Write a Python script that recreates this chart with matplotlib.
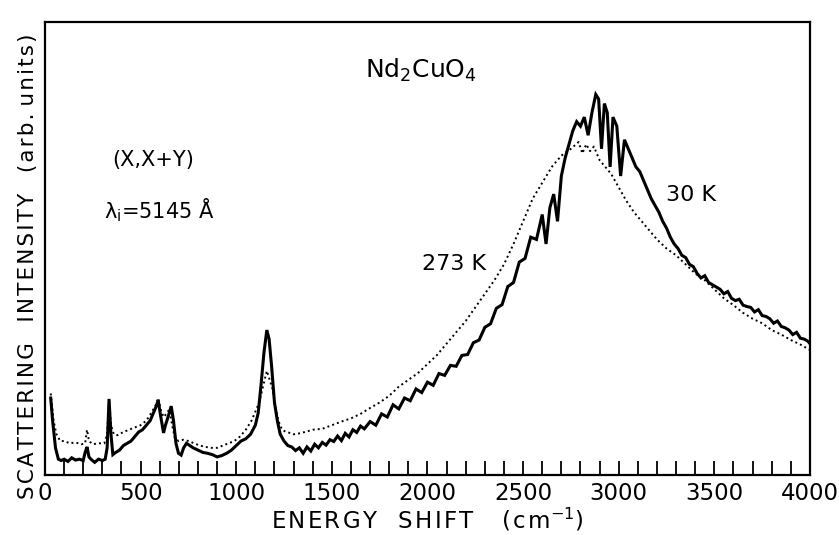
import matplotlib
matplotlib.use("Agg")
import matplotlib.pyplot as plt
from matplotlib.ticker import MultipleLocator

plt.rcParams['font.family'] = ['DejaVu Sans']

# 30 K spectrum (solid)
shift_30k = [30, 40, 55, 70, 85, 100, 120, 140, 160, 180, 200, 210, 220, 230, 240,
             260, 280, 300, 315, 325, 335, 345, 355, 370, 390, 410, 430, 450, 470,
             490, 510, 530, 550, 565, 580, 592, 605, 620, 630, 645, 660, 672, 685,
             698, 712, 725, 740, 758, 775, 800, 825, 850, 875, 900, 925, 950, 975,
             1000, 1025, 1050, 1075, 1100, 1115, 1130, 1145, 1160, 1172, 1185, 1200,
             1215, 1230, 1250, 1270, 1290,
             1310, 1330, 1350, 1370, 1390, 1410, 1430,
             1450, 1470, 1490, 1510, 1530, 1550, 1570, 1590, 1610, 1630, 1650, 1670,
             1700, 1730, 1760, 1790, 1820, 1850, 1880, 1910, 1940, 1970, 2000, 2030,
             2060, 2090, 2120, 2150, 2180, 2210, 2240, 2270, 2300, 2330, 2360, 2390,
             2420, 2450, 2480, 2510, 2540, 2570, 2600,
             2620, 2640, 2660, 2680, 2700,
             2720, 2740, 2760, 2780, 2800, 2820, 2840, 2860, 2880, 2895, 2910, 2925,
             2940, 2955, 2970, 2990, 3010, 3030, 3050, 3070, 3090, 3110, 3130, 3150,
             3170, 3190, 3210, 3230, 3250, 3270, 3290, 3310, 3330, 3350, 3370, 3390,
             3410, 3430, 3450, 3470, 3490, 3510, 3530, 3550, 3570, 3590, 3610, 3630,
             3650, 3670, 3690, 3710, 3730, 3750, 3770, 3790, 3810, 3830, 3850, 3870,
             3890, 3910, 3930, 3950, 3970, 3990, 4000]
int_30k = [17, 12, 6, 3.5, 3.2, 3.5, 3.0, 3.8, 3.3, 3.5, 3.2, 5, 6.2, 4, 3.5,
           2.8, 3.5, 3.2, 3.5, 6, 16.8, 9, 4.5, 5, 5.5, 6.5, 7, 7.5, 8.5,
           9.5, 10, 11, 12, 13.5, 15, 16.5, 13, 9.3, 11, 13, 15.2, 12, 7,
           4.8, 4.4, 6, 7, 6.5, 6, 5.5, 5, 4.8, 4.5, 4, 4.3, 4.8, 5.5,
           6.5, 7.5, 8, 9, 11, 13.7, 20, 27, 32, 30, 24, 16,
           12, 9, 7.5, 6.5, 6.2,
           5.4, 6.0, 4.8, 6.2, 5.3, 6.8, 6.0,
           7.2, 6.6, 7.8, 7.4, 8.6, 7.6, 9.2, 8.4, 10.0, 9.4, 10.8, 10.2,
           11.8, 11.0, 13.5, 12.8, 15.5, 14.6, 17.0, 16.4, 19.0, 18.2, 20.5, 19.8,
           22.4, 22.0, 24.2, 24.0, 26.4, 26.6, 29.2, 29.8, 32.6, 33.4, 36.8, 37.6,
           41.6, 42.5, 47.0, 47.8, 52.5, 52.0, 57.5,
           51, 59, 62, 56, 66,
           70, 73, 76, 78, 77, 79, 75, 80, 84, 83, 72, 82,
           80, 68, 79, 77, 66, 74, 72, 70, 68, 67, 65, 63,
           61, 59.5, 58, 56, 54.5, 52.5, 51, 50, 48.5, 48, 46.5, 46,
           44.5, 43.5, 44, 42.5, 42, 41.5, 41, 40, 40.5, 39, 38.5, 38.8,
           37.5, 37.2, 37, 36, 36.5, 35.2, 35, 34.5, 33.5, 34, 32.8, 32.5,
           32, 31, 31.5, 30.2, 30, 29.5, 29]

# 273 K spectrum (dotted)
shift_273k = [30, 45, 60, 80, 100, 130, 160, 190, 210, 220, 230, 250, 280, 310, 325,
              335, 345, 360, 380, 410, 440, 470, 500, 530, 560, 580, 592, 605, 620,
              635, 650, 665, 680, 700, 725, 750, 780, 810, 840, 870, 900, 930, 960,
              990, 1020, 1050, 1080, 1100, 1120, 1140, 1160, 1175, 1190, 1205, 1220,
              1240, 1260, 1280, 1300, 1330, 1360, 1400, 1450, 1500, 1550, 1600, 1650,
              1700, 1750, 1800, 1850, 1900, 1950, 2000, 2050, 2100, 2150, 2200, 2250,
              2300, 2350, 2400, 2450, 2500, 2550, 2600, 2650, 2700, 2750, 2790, 2810,
              2830, 2850, 2870, 2900, 2930, 2960, 3000, 3040, 3080, 3120, 3160, 3200,
              3250, 3300, 3350, 3400, 3450, 3500, 3550, 3600, 3650, 3700, 3750, 3800,
              3850, 3900, 3950, 4000]
int_273k = [18, 12, 9, 7.5, 7.5, 7, 7.2, 6.8, 7, 10, 7.5, 6.8, 7, 7, 9,
            16.5, 11, 9, 8.8, 9.5, 10, 10.5, 11, 12, 14, 15.5, 17, 14.5, 12.8,
            13.5, 14.5, 11, 8, 7.5, 7.8, 7.5, 7, 6.5, 6.2, 6, 6, 6.5, 7,
            7.5, 8.5, 10, 12, 14, 16, 19.5, 23, 21, 19, 15, 12,
            10, 9.5, 9.3, 9, 9.2, 9.5, 10, 10.2, 11, 11.8, 12.5, 13.5,
            14.8, 16, 17.5, 19.5, 21, 22.5, 24.5, 26.5, 29, 31.5, 34, 37,
            40, 43, 46.5, 51, 56, 61, 64.5, 68, 70.5, 72, 73.5, 71,
            73, 71.5, 72.5, 69.5, 68, 66.5, 63.5, 60.5, 58, 56, 54, 52,
            50, 48.5, 46.5, 44.5, 43, 41, 39, 37.5, 35.8, 34.5, 33.5, 32,
            31, 29.8, 28.8, 27.6]


def spaced(s):
    # the scanned lettering is widely tracked
    return '\u200a'.join(s)


fig = plt.figure(figsize=(8.39, 5.35), dpi=100)
ax = fig.add_axes([0.0536, 0.1121, 0.9118, 0.8468])

ax.plot(shift_30k, int_30k, color='black', lw=2.2, solid_joinstyle='miter')
ax.plot(shift_273k, int_273k, color='black', lw=1.4, linestyle=(0, (1, 1.6)))

ax.set_xlim(0, 4000)
ax.set_ylim(0, 100)
ax.xaxis.set_major_locator(MultipleLocator(500))
ax.xaxis.set_minor_locator(MultipleLocator(100))
ax.tick_params(axis='x', which='both', direction='in', length=10, width=1.3,
               labelsize=16.5, pad=5)
ax.set_yticks([])
for s in ax.spines.values():
    s.set_linewidth(1.6)

xlab = spaced('ENERGY') + '   ' + spaced('SHIFT') + '    ' + spaced('(cm') + '$^{-1}$' + ')'
ylab = spaced('SCATTERING') + '   ' + spaced('INTENSITY') + '   ' + spaced('(arb.') + ' ' + spaced('units)')
ax.set_xlabel(xlab, fontsize=16.5, labelpad=1)
ax.set_ylabel(ylab, fontsize=15.5, labelpad=5, y=0.46)

ax.text(0.492, 0.894, 'Nd$_2$CuO$_4$', transform=ax.transAxes, fontsize=18,
        ha='center', va='center')
ax.text(0.142, 0.695, '(X,X+Y)', transform=ax.transAxes, fontsize=15,
        ha='center', va='center')
ax.text(0.149, 0.585, 'λ$_\\mathregular{i}$=5145 Å', transform=ax.transAxes, fontsize=15,
        ha='center', va='center')
ax.text(0.535, 0.466, '273 K', transform=ax.transAxes, fontsize=16,
        ha='center', va='center')
ax.text(0.844, 0.618, '30 K', transform=ax.transAxes, fontsize=16,
        ha='center', va='center')

fig.savefig('out.png', dpi=100)
